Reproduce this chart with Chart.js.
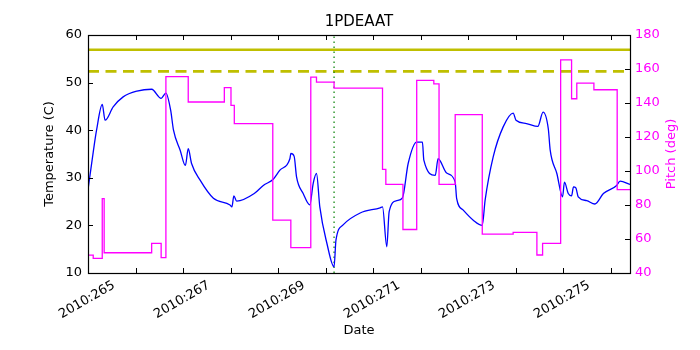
<!DOCTYPE html>
<html>
<head>
<meta charset="utf-8">
<script src="https://cdn.jsdelivr.net/npm/chart.js"></script>
<style>
  html, body { margin: 0; padding: 0; background: #fff; }
  #wrap { width: 700px; height: 350px; }
</style>
</head>
<body>
<div id="wrap"><canvas id="c" width="700" height="350"></canvas></div>
<script>
// ---- data ----
const tempDays = [265.0, 265.11, 265.18, 265.30, 265.36, 265.53, 265.74, 266.03, 266.34, 266.54, 266.64, 266.74, 266.80, 266.94, 267.05, 267.11, 267.18, 267.36, 267.64, 267.99, 268.03, 268.07, 268.13, 268.50, 268.69, 268.90, 269.04, 269.25, 269.27, 269.34, 269.39, 269.53, 269.67, 269.74, 269.81, 269.88, 270.03, 270.18, 270.22, 270.37, 270.73, 271.15, 271.20, 271.29, 271.34, 271.50, 271.62, 271.74, 271.92, 272.04, 272.07, 272.31, 272.37, 272.55, 272.73, 272.76, 272.90, 273.11, 273.30, 273.36, 273.53, 273.74, 273.95, 274.01, 274.23, 274.47, 274.58, 274.69, 274.73, 274.87, 274.99, 275.03, 275.11, 275.18, 275.22, 275.27, 275.32, 275.50, 275.67, 275.85, 276.13, 276.20, 276.41];
const tempValues = [27.5, 35.4, 40, 45.4, 42.1, 44.9, 47, 48.2, 48.6, 46.7, 47.8, 44.2, 40, 35.8, 32.6, 36.1, 33, 29.5, 25.7, 24.3, 23.9, 26.2, 25.1, 26.7, 28.4, 29.7, 31.6, 34, 35.1, 34.5, 30.2, 26.7, 24.3, 28.8, 30.9, 23.9, 16.2, 11.3, 16.9, 20.1, 22.6, 23.7, 23.9, 15.5, 22.9, 25.2, 25.8, 33, 37.5, 37.5, 33.7, 30.5, 34, 31, 29.1, 25.7, 23.2, 21.1, 20, 25.3, 34.4, 40.7, 43.6, 42.1, 41.4, 40.8, 43.8, 40.3, 35.8, 30.9, 26, 29.1, 26.7, 26.2, 28.1, 27.9, 26, 25.2, 24.5, 26.7, 28.4, 29.3, 28.6];

const pitchDays = [265.0, 265.11, 265.30, 265.34, 266.34, 266.54, 266.64, 267.11, 267.87, 268.01, 268.08, 268.89, 269.27, 269.69, 269.81, 270.18, 271.20, 271.27, 271.63, 271.92, 272.28, 272.39, 272.73, 273.30, 273.95, 274.45, 274.57, 274.95, 275.18, 275.29, 275.65, 276.14, 276.41];
const pitchValues = [50.5, 48.6, 83.8, 51.9, 57.4, 49, 155.5, 140.6, 149, 138.6, 127.9, 71.1, 54.9, 155.2, 152.3, 148.8, 100.9, 92.1, 65.6, 153.3, 151.3, 92.1, 133.2, 62.9, 63.9, 50.6, 57.4, 165.4, 142.5, 151.7, 147.8, 89.1, 89.1];

const dayRange = [265, 276.41];
const planningLimit = [56.9, 56.9];   // solid yellow
const cautionLimit = [52.35, 52.35];  // dashed yellow
const markerDay = [270.18, 270.18];   // green dotted vertical
const markerTemps = [10, 60];

const tickDays = [265, 266, 267, 268, 269, 270, 271, 272, 273, 274, 275, 276];
const labelDays = [265, 267, 269, 271, 273, 275];
const tempTicks = [10, 20, 30, 40, 50, 60];
const pitchTicks = [40, 60, 80, 100, 120, 140, 160, 180];

const FONT = '"DejaVu Sans", "Liberation Sans", sans-serif';
const MAGENTA = '#ff00ff';

const zip = (xs, ys) => xs.map((x, i) => ({ x: x, y: ys[i] }));

const framePlugin = {
  id: 'frame',
  afterDatasetsDraw(chart) {
    const { ctx, chartArea: a, scales } = chart;
    const xs = scales.x, yl = scales.y, yr = scales.y1;
    ctx.save();
    ctx.strokeStyle = '#000';
    ctx.lineWidth = 1;
    const L = 5;
    ctx.beginPath();
    tickDays.forEach(d => {
      const px = Math.round(xs.getPixelForValue(d)) + 0.5;
      ctx.moveTo(px, a.bottom); ctx.lineTo(px, a.bottom - L);
      ctx.moveTo(px, a.top); ctx.lineTo(px, a.top + L);
    });
    tempTicks.forEach(v => {
      const py = Math.round(yl.getPixelForValue(v)) + 0.5;
      ctx.moveTo(a.left, py); ctx.lineTo(a.left + L, py);
    });
    pitchTicks.forEach(v => {
      const py = Math.round(yr.getPixelForValue(v)) + 0.5;
      ctx.moveTo(a.right, py); ctx.lineTo(a.right - L, py);
    });
    ctx.stroke();
    ctx.lineWidth = 1.2;
    ctx.strokeRect(Math.round(a.left) + 0.5, Math.round(a.top) + 0.5,
                   Math.round(a.right - a.left), Math.round(a.bottom - a.top));
    // rotated date labels centred on their ticks
    ctx.fillStyle = '#000';
    ctx.font = '13px ' + FONT;
    ctx.textAlign = 'center';
    ctx.textBaseline = 'middle';
    labelDays.forEach(d => {
      const px = xs.getPixelForValue(d);
      ctx.save();
      ctx.translate(px - 1, a.bottom + 27);
      ctx.rotate(-Math.PI / 6);
      ctx.fillText('2010:' + d, 0, 0);
      ctx.restore();
    });
    // right axis title, reading bottom-to-top
    ctx.fillStyle = MAGENTA;
    ctx.save();
    ctx.translate(672, (a.top + a.bottom) / 2);
    ctx.rotate(-Math.PI / 2);
    ctx.fillText('Pitch (deg)', 0, 0);
    ctx.restore();
    ctx.restore();
  }
};

new Chart(document.getElementById('c'), {
  type: 'line',
  data: {
    datasets: [
      {
        label: 'Pitch', yAxisID: 'y1', order: 0,
        data: zip(pitchDays, pitchValues),
        borderColor: MAGENTA, borderWidth: 1.3, pointRadius: 0, fill: false,
        stepped: true
      },
      {
        label: 'Temperature', yAxisID: 'y', order: 1,
        data: zip(tempDays, tempValues),
        borderColor: '#0000ff', borderWidth: 1.3, pointRadius: 0, fill: false,
        cubicInterpolationMode: 'monotone'
      },
      {
        label: 'marker', yAxisID: 'y', order: 2,
        data: zip(markerDay, markerTemps),
        borderColor: '#008000', borderWidth: 1.2, borderDash: [1.5, 3.5], pointRadius: 0, fill: false
      },
      {
        label: 'planning', yAxisID: 'y', order: 3,
        data: zip(dayRange, planningLimit),
        borderColor: '#bfbf00', borderWidth: 2.6, pointRadius: 0, fill: false
      },
      {
        label: 'caution', yAxisID: 'y', order: 4,
        data: zip(dayRange, cautionLimit),
        borderColor: '#bfbf00', borderWidth: 2.6, borderDash: [11, 6.5], pointRadius: 0, fill: false
      }
    ]
  },
  options: {
    responsive: false,
    animation: false,
    events: [],
    layout: { padding: 0 },
    plugins: {
      legend: { display: false },
      tooltip: { enabled: false },
      title: {
        display: true, text: '1PDEAAT', fullSize: false,
        color: '#000', font: { family: FONT, size: 15, weight: 'normal' },
        padding: { top: 13, bottom: 4 }
      }
    },
    scales: {
      x: {
        type: 'linear', position: 'bottom',
        min: dayRange[0], max: dayRange[1],
        grid: { display: false, drawTicks: false },
        border: { display: false },
        ticks: { display: false, stepSize: 1, includeBounds: false },
        title: { display: true, text: 'Date', color: '#000', font: { family: FONT, size: 13 }, padding: { top: 0, bottom: 12 } },
        afterFit: s => { s.height = 77; }
      },
      y: {
        type: 'linear', position: 'left',
        min: 10, max: 60,
        grid: { display: false, drawTicks: false },
        border: { display: false },
        ticks: { stepSize: 10, color: '#000', padding: 6, font: { family: FONT, size: 13 } },
        title: { display: true, text: 'Temperature (C)', color: '#000', font: { family: FONT, size: 13 }, padding: { top: 42, bottom: 0 } },
        afterFit: s => { s.width = 88; }
      },
      y1: {
        type: 'linear', position: 'right',
        min: 40, max: 180,
        grid: { display: false, drawTicks: false },
        border: { display: false },
        ticks: { stepSize: 20, color: MAGENTA, padding: 5, font: { family: FONT, size: 13 } },
        title: { display: false },
        afterFit: s => { s.width = 70; }
      }
    }
  },
  plugins: [framePlugin]
});
</script>
</body>
</html>
